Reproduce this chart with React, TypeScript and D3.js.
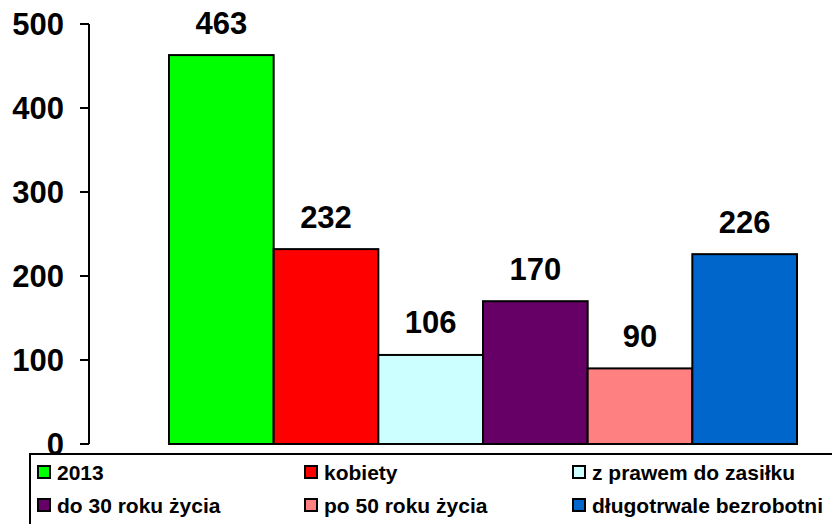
import React, { useEffect } from "react";
import * as d3 from "d3";

const categories = ["2013", "kobiety", "z prawem do zasiłku", "do 30 roku życia", "po 50 roku życia", "długotrwale bezrobotni"];
const values = [463, 232, 106, 170, 90, 226];
const colors = ["#00FF00", "#FF0000", "#CCFFFF", "#660066", "#FF8080", "#0066CC"];
const yTicks = [0, 100, 200, 300, 400, 500];

const W = 832;
const H = 524;
const FONT = "'Liberation Sans', Arial, sans-serif";

export default function App() {
  useEffect(() => {
    document.body.style.margin = "0";
  }, []);

  const y = d3.scaleLinear().domain([0, 500]).range([444, 24]);
  const x = d3.scaleBand<string>().domain(categories).range([169, 797]).padding(0);
  const axisX = 89;

  const legendCols = [38, 305, 573];
  const legendRows = [472, 505];

  return (
    <svg width={W} height={H} style={{ position: "absolute", left: 0, top: 0, background: "#fff" }} fontFamily={FONT}>
      <rect x={0} y={0} width={W} height={H} fill="#fff" />
      {/* y axis */}
      <line x1={axisX} x2={axisX} y1={y(500)} y2={y(0)} stroke="#000" strokeWidth={2} />
      {yTicks.map((t) => (
        <g key={t}>
          <line x1={axisX - 9} x2={axisX} y1={y(t)} y2={y(t)} stroke="#000" strokeWidth={2} />
          <text x={64} y={y(t)} dy="0.36em" textAnchor="end" fontSize={31} fontWeight="bold" fill="#000">
            {t}
          </text>
        </g>
      ))}
      {/* bars */}
      {categories.map((c, i) => (
        <g key={c}>
          <rect
            x={x(c)!}
            y={y(values[i])}
            width={x.bandwidth()}
            height={y(0) - y(values[i])}
            fill={colors[i]}
            stroke="#000"
            strokeWidth={2}
          />
          <text
            x={x(c)! + x.bandwidth() / 2}
            y={y(values[i]) - 21.5}
            textAnchor="middle"
            fontSize={31}
            fontWeight="bold"
            fill="#000"
          >
            {values[i]}
          </text>
        </g>
      ))}
      {/* legend */}
      <rect x={30} y={454} width={830} height={120} fill="#fff" stroke="#000" strokeWidth={2} />
      {categories.map((c, i) => {
        const col = i % 3;
        const row = Math.floor(i / 3);
        const sx = legendCols[col];
        const cy = legendRows[row];
        return (
          <g key={"lg" + c}>
            <rect x={sx} y={cy - 6} width={12} height={12} fill={colors[i]} stroke="#000" strokeWidth={2} />
            <text x={sx + 19} y={cy} dy="0.36em" fontSize={21} fontWeight="bold" fill="#000">
              {c}
            </text>
          </g>
        );
      })}
    </svg>
  );
}
